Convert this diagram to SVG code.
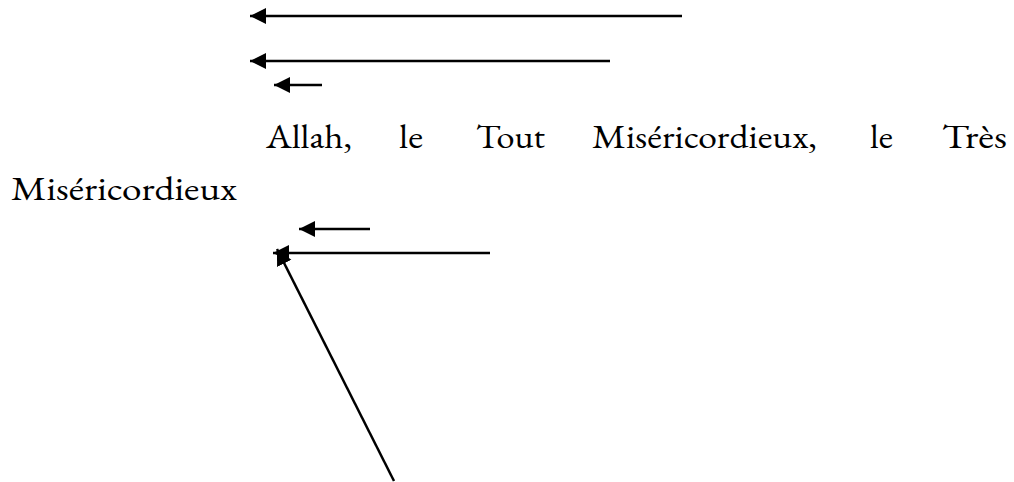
<svg xmlns="http://www.w3.org/2000/svg" width="1014" height="482" viewBox="0 0 1014 482">
<style>
.c line{stroke:#000;stroke-width:2.5;fill:none;marker-end:url(#ah)}
.t{font-family:"EB Garamond","Liberation Serif",serif;font-size:34px;fill:#000}
</style>
<defs>
<marker id="ah" markerUnits="userSpaceOnUse" markerWidth="18" markerHeight="17" refX="16" refY="8" orient="auto">
<path d="M0,0 L16,8 L0,16 z" fill="#000"/>
</marker>
</defs>
<rect width="1014" height="482" fill="#fff"/>
<g id="text1">
<text class="t" y="148"><tspan x="266" textLength="86" lengthAdjust="spacingAndGlyphs">Allah,</tspan><tspan x="399" textLength="24" lengthAdjust="spacingAndGlyphs">le</tspan><tspan x="476" textLength="69" lengthAdjust="spacingAndGlyphs">Tout</tspan><tspan x="592" textLength="225" lengthAdjust="spacingAndGlyphs">Miséricordieux,</tspan><tspan x="870" textLength="23" lengthAdjust="spacingAndGlyphs">le</tspan><tspan x="942" textLength="65" lengthAdjust="spacingAndGlyphs">Très</tspan></text>
</g>
<g id="text2">
<text class="t" x="11" y="200" textLength="226" lengthAdjust="spacingAndGlyphs">Miséricordieux</text>
</g>
<g id="connectors" class="c">
<line x1="682" y1="16" x2="250" y2="16"/>
<line x1="610" y1="61" x2="250" y2="61"/>
<line x1="322" y1="85" x2="274" y2="85"/>
<line x1="370" y1="229" x2="299" y2="229"/>
<line x1="490" y1="253" x2="273" y2="253"/>
<line x1="394" y1="481" x2="277" y2="249"/>
</g>
</svg>
